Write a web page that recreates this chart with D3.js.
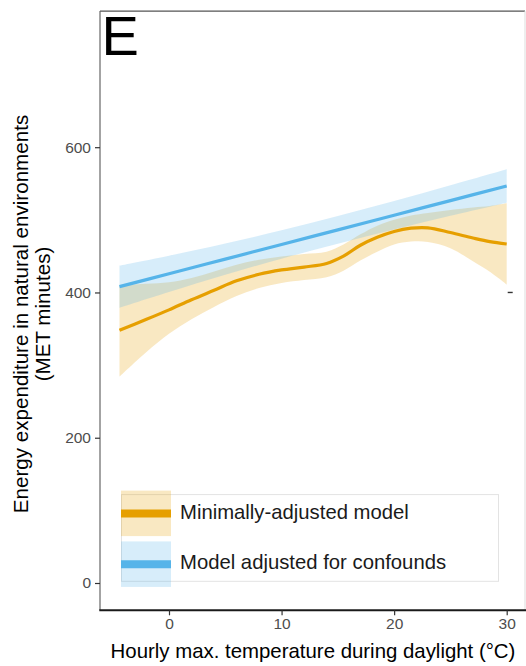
<!DOCTYPE html>
<html>
<head>
<meta charset="utf-8">
<script src="https://cdn.jsdelivr.net/npm/d3@7"></script>
<style>
  html, body { margin: 0; padding: 0; background: #fff; }
  svg { display: block; font-family: "Liberation Sans", Arial, sans-serif; }
</style>
</head>
<body>
<svg id="chart" width="526" height="666"></svg>
<script>
// Minimally-adjusted smooth fit with confidence band
const minTemp = [-4.4, -2, 0, 2, 4, 6, 8, 10, 12, 14, 15.5, 17, 18.5, 20, 21.5, 23, 25, 27, 28.5, 30];
const minFit  = [348, 363, 376, 390, 403, 416, 425, 431, 435, 440, 450, 465, 476, 484, 488.5, 489, 482.5, 475, 470, 466.7];
const minLo   = [284, 318, 343, 363, 380, 395, 406, 413, 417, 421, 430, 444, 456, 466, 470, 469.5, 461, 443, 428.6, 411];
const minHi   = [410, 412, 414, 420, 429, 438, 445, 449.5, 453, 456, 466, 480, 492, 500, 506, 509.5, 513.5, 517, 519, 522.7];

// Model adjusted for confounds: linear fit with confidence band
const adjTemp = [-4.4, 0, 5, 10, 15, 20, 25, 30];
const adjFit  = [408, 425.7, 445.9, 466.0, 486.2, 506.3, 526.5, 546.6];
const adjLo   = [379, 400.7, 424.4, 446.5, 467.2, 486.8, 505.5, 523.6];
const adjHi   = [437, 450.7, 467.4, 485.5, 505.2, 525.8, 547.5, 569.6];

const xTicks = [0, 10, 20, 30];
const yTicks = [0, 200, 400, 600];

const seriesNames = ["Minimally-adjusted model", "Model adjusted for confounds"];
const lineColors  = ["#E69F00", "#56B4E9"];
const bandColors  = ["rgba(230,159,0,0.24)", "rgba(86,180,233,0.24)"];

const svg = d3.select("#chart");

const x = d3.scaleLinear().domain([0, 30]).range([169, 506.7]);
const y = d3.scaleLinear().domain([0, 600]).range([583, 147.2]);

const panel = { left: 100, top: 11.1, right: 525, bottom: 610.3 };

// panel frame (top and right)
svg.append("line").attr("x1", panel.left).attr("x2", panel.right)
  .attr("y1", panel.top).attr("y2", panel.top)
  .attr("stroke", "#555").attr("stroke-width", 1.4);
svg.append("line").attr("x1", panel.right).attr("x2", panel.right)
  .attr("y1", panel.top).attr("y2", panel.bottom)
  .attr("stroke", "#ddd").attr("stroke-width", 1);

// confidence bands and fitted curves
function band(temps, lo, hi) {
  return d3.area()
    .x((d, i) => x(temps[i]))
    .y0((d, i) => y(lo[i]))
    .y1((d, i) => y(hi[i]))
    .curve(d3.curveCatmullRom)(temps);
}
function fitLine(temps, fit) {
  return d3.line()
    .x((d, i) => x(temps[i]))
    .y((d, i) => y(fit[i]))
    .curve(d3.curveCatmullRom)(temps);
}

svg.append("path").attr("d", band(minTemp, minLo, minHi)).attr("fill", bandColors[0]);
svg.append("path").attr("d", band(adjTemp, adjLo, adjHi)).attr("fill", bandColors[1]);
svg.append("path").attr("d", fitLine(minTemp, minFit))
  .attr("fill", "none").attr("stroke", lineColors[0]).attr("stroke-width", 3.2);
svg.append("path").attr("d", fitLine(adjTemp, adjFit))
  .attr("fill", "none").attr("stroke", lineColors[1]).attr("stroke-width", 3.2);

// short dash to the right of the curves at the 400 level
svg.append("line").attr("x1", x(30) + 1).attr("x2", x(30) + 6)
  .attr("y1", y(400)).attr("y2", y(400))
  .attr("stroke", "#333").attr("stroke-width", 1.4);

// axes
const yAxis = svg.append("g").attr("transform", `translate(${panel.left},0)`)
  .call(d3.axisLeft(y).tickValues(yTicks).tickSize(5).tickPadding(4));
yAxis.select(".domain").attr("d", `M0,${panel.top}V${panel.bottom}`)
  .attr("stroke", "#666").attr("stroke-width", 1.2);
yAxis.selectAll(".tick line").attr("stroke", "#333").attr("stroke-width", 1.2);
yAxis.selectAll(".tick text").attr("fill", "#4d4d4d")
  .style("font-size", "15.5px").style("font-family", "Liberation Sans, Arial, sans-serif");

const xAxis = svg.append("g").attr("transform", `translate(0,${panel.bottom})`)
  .call(d3.axisBottom(x).tickValues(xTicks).tickSize(5).tickPadding(3));
xAxis.select(".domain").attr("d", `M${panel.left - 0.7},0H526`)
  .attr("stroke", "#1a1a1a").attr("stroke-width", 2);
xAxis.selectAll(".tick line").attr("stroke", "#333").attr("stroke-width", 1.2);
xAxis.selectAll(".tick text").attr("fill", "#4d4d4d")
  .style("font-size", "15.5px").style("font-family", "Liberation Sans, Arial, sans-serif");

// axis titles
svg.append("text").attr("x", 313).attr("y", 657.5)
  .attr("text-anchor", "middle").attr("font-size", 20.4).attr("fill", "#000")
  .text("Hourly max. temperature during daylight (°C)");

const yTitle = svg.append("text")
  .attr("transform", "translate(0,314) rotate(-90)")
  .attr("text-anchor", "middle").attr("font-size", 20.6).attr("fill", "#000");
yTitle.append("tspan").attr("x", 0).attr("y", 27.5).text("Energy expenditure in natural environments");
yTitle.append("tspan").attr("x", 0).attr("y", 50).text("(MET minutes)");

// panel letter
svg.append("text").attr("x", 101.5).attr("y", 55.4)
  .attr("font-size", 56).attr("fill", "#000").text("E");

// legend
const legend = svg.append("g");
legend.append("rect").attr("x", 121.5).attr("y", 494.6).attr("width", 377).attr("height", 86.7)
  .attr("fill", "#fff").attr("stroke", "#e3e3e3").attr("stroke-width", 1);

const keyTop = [490.6, 541.4];
const textBase = [519.2, 568.8];
seriesNames.forEach((name, i) => {
  legend.append("rect").attr("x", 121).attr("y", keyTop[i]).attr("width", 50).attr("height", 45.5)
    .attr("fill", bandColors[i]);
  legend.append("line").attr("x1", 121).attr("x2", 171)
    .attr("y1", keyTop[i] + 22.8).attr("y2", keyTop[i] + 22.8)
    .attr("stroke", lineColors[i]).attr("stroke-width", 8);
  legend.append("text").attr("x", 180).attr("y", textBase[i])
    .attr("font-size", 20.3).attr("fill", "#1a1a1a").text(name);
});
</script>
</body>
</html>
